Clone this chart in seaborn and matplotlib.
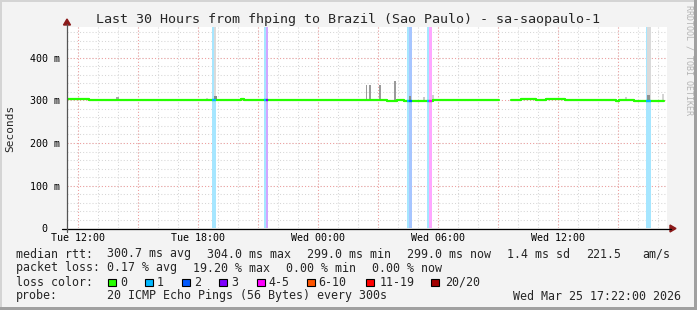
import numpy as np
import pandas as pd
import matplotlib
matplotlib.use("Agg")
import matplotlib.pyplot as plt
import seaborn as sns
from matplotlib.patches import Rectangle, Polygon
from matplotlib.lines import Line2D
from matplotlib.colors import to_rgb

# ---------------- data ----------------
title = "Last 30 Hours from fhping to Brazil (Sao Paulo) - sa-saopaulo-1"

# median rtt (ms), step segments; hours counted from Tue 00:00
run_a_hours = [11.45, 12.55, 20.15, 20.3, 21.5, 27.45, 27.95, 28.3, 29.75, 29.95, 33.05]
run_a_rtt = [304, 301, 302.5, 300.5, 301.5, 299, 301, 299, 301, 300, 300]
run_b_hours = [33.65, 34.15, 34.9, 35.4, 36.35, 38.9, 39.05, 39.7, 39.8, 41.3]
run_b_rtt = [301, 304, 300.5, 304, 300.5, 299.5, 300, 301.5, 299, 299]

# packet-loss events (lost pings out of 20)
loss_start = [18.675, 18.775, 21.3, 21.4, 28.45, 28.55, 29.45, 29.55, 40.4, 40.5]
loss_end = [18.775, 18.875, 21.4, 21.5, 28.55, 28.675, 29.55, 29.675, 40.5, 40.625]
loss_count = [1, 1, 1, 3, 1, 2, 1, 5, 1, 1]
loss_rtt = [301, 301, 300.5, 300.5, 299, 299, 299, 299, 299, 299]

# smoke (ping spread) bars
smoke_hours = [13.975, 15.05, 15.6, 16.35, 18.45, 18.85, 18.875, 19.25, 23.75, 26.425, 26.6,
               27.1, 27.85, 28.6, 29.3, 29.75, 33.9, 39.4, 40.55, 40.55, 41.25]
smoke_width = [0.15, 0.1, 0.1, 0.1, 0.1, 0.1, 0.15, 0.1, 0.15, 0.05, 0.1,
               0.1, 0.1, 0.1, 0.15, 0.1, 0.05, 0.1, 0.2, 0.15, 0.1]
smoke_lo = [302, 301, 301, 301, 302, 302, 302, 302, 301, 301, 301,
            301, 301, 300, 300, 300, 303, 302, 302, 302, 302]
smoke_hi = [308, 304, 304, 304, 306, 472, 310, 304, 304, 336, 336,
            336, 346, 310, 307, 312, 312, 307, 472, 312, 314]
smoke_gray = ["#a8a8a8", "#d4d4d4", "#d4d4d4", "#d4d4d4", "#d4d4d4", "#dadada", "#8a8a8a", "#d4d4d4",
              "#d4d4d4", "#9a9a9a", "#9a9a9a", "#9a9a9a", "#9a9a9a", "#8e8e8e", "#c8c8c8", "#d0d0d0",
              "#b0b0b0", "#d0d0d0", "#dadada", "#909090", "#d4d4d4"]

tick_hours = [12, 18, 24, 30, 36]
tick_labels = ["Tue 12:00", "Tue 18:00", "Wed 00:00", "Wed 06:00", "Wed 12:00"]
y_ticks = [0, 100, 200, 300, 400]
y_tick_labels = ["0  ", "100 m", "200 m", "300 m", "400 m"]

loss_labels = ["0", "1", "2", "3", "4-5", "6-10", "11-19", "20/20"]
loss_colors = ["#26ff00", "#00b8ff", "#0059ff", "#7e00ff", "#ff00ff", "#ff5500", "#ff0000", "#a10000"]

legend_rtt = ["median rtt:", "300.7 ms avg", "304.0 ms max", "299.0 ms min", "299.0 ms now",
              "1.4 ms sd", "221.5", "am/s"]
legend_loss = ["packet loss:", "0.17 % avg", "19.20 % max", "0.00 % min", "0.00 % now"]
legend_probe = ["probe:", "20 ICMP Echo Pings (56 Bytes) every 300s", "Wed Mar 25 17:22:00 2026"]

# ---------------- figure ----------------
W, H = 697, 310
sns.set_style("white")
plt.rcParams["font.family"] = ["DejaVu Sans Mono"]
fig = plt.figure(figsize=(W / 100, H / 100), dpi=100)
fig.patch.set_facecolor("#f3f3f3")

def fx(px):
    return px / W

def fy(py):
    return 1 - py / H

L, R, T, B = 67, 667, 27, 228.3
ax = fig.add_axes([fx(L), fy(B), fx(R) - fx(L), fy(T) - fy(B)])
ax.set_facecolor("white")
for s in ax.spines.values():
    s.set_visible(False)
ax.set_xlim(11.45, 41.45)
ax.set_ylim(0, 472)

# grid
dot = (0, (1, 2))
for h in np.arange(12, 42, 1):
    ax.axvline(h, color="#d6d6d6", lw=0.75, ls=dot, zorder=0.5)
for v in np.arange(20, 472, 20):
    ax.axhline(v, color="#d6d6d6", lw=0.75, ls=dot, zorder=0.5)
for h in np.arange(12, 42, 3):
    ax.axvline(h, color="#f0a0a0", lw=0.75, ls=dot, zorder=0.6)
for v in np.arange(100, 472, 100):
    ax.axhline(v, color="#f0a0a0", lw=0.75, ls=dot, zorder=0.6)

def idx(n):
    if n <= 3:
        return n
    if n <= 5:
        return 4
    if n <= 10:
        return 5
    if n <= 19:
        return 6
    return 7

def pale(c, a=0.35):
    r, g, b = to_rgb(c)
    return (1 - a + a * r, 1 - a + a * g, 1 - a + a * b)

# loss stripes
for s, e, n in zip(loss_start, loss_end, loss_count):
    ax.axvspan(s, e, color=pale(loss_colors[idx(n)]), lw=0, zorder=1)

# smoke
ax.bar(smoke_hours, np.array(smoke_hi) - np.array(smoke_lo), bottom=smoke_lo,
       width=smoke_width, color=smoke_gray, lw=0, zorder=2)

# median line
df = pd.DataFrame({
    "hour": run_a_hours + run_b_hours,
    "rtt": run_a_rtt + run_b_rtt,
    "run": ["a"] * len(run_a_hours) + ["b"] * len(run_b_hours),
})
sns.lineplot(data=df, x="hour", y="rtt", units="run", estimator=None, drawstyle="steps-post",
             color="#26ff00", lw=1.6, ax=ax, zorder=3)
for s, e, n, v in zip(loss_start, loss_end, loss_count, loss_rtt):
    ax.plot([s, e], [v, v], color=loss_colors[idx(n)], lw=1.6, solid_capstyle="butt", zorder=4)

ax.set_xlabel("")
ax.set_ylabel("")
ax.set_xticks(tick_hours, tick_labels)
ax.set_yticks(y_ticks, y_tick_labels)
ax.tick_params(length=0, labelsize=7.2, colors="black")
ax.tick_params(axis="x", pad=3.5)
ax.tick_params(axis="y", pad=5)

# axes lines and arrows
fig.add_artist(Line2D([fx(62), fx(671)], [fy(228.5), fy(228.5)], color="black", lw=0.9))
fig.add_artist(Line2D([fx(67), fx(67)], [fy(232), fy(24)], color="#555555", lw=0.9))
fig.add_artist(Polygon([[fx(670), fy(225)], [fx(670), fy(232)], [fx(676), fy(228.5)]],
                       closed=True, color="#8b1a1a"))
fig.add_artist(Polygon([[fx(63.5), fy(25)], [fx(70.5), fy(25)], [fx(67), fy(19)]],
                       closed=True, color="#8b1a1a"))

# texts
fig.text(fx(348), fy(20), title, ha="center", va="center", fontsize=9.6)
fig.text(fx(10.5), fy(128), "Seconds", rotation=90, ha="center", va="center", fontsize=8)
fig.text(fx(688.5), fy(60), "RRDTOOL / TOBI OETIKER", rotation=-90, ha="center", va="center",
         fontsize=6, color="#b4b4b4")

fs = 8.4
rtt_x = [16, 107, 207, 307, 407, 507, 586, 642]
for x, t in zip(rtt_x, legend_rtt):
    fig.text(fx(x), fy(254), t, ha="left", va="center", fontsize=fs)
loss_x = [16, 107, 193, 286, 372]
for x, t in zip(loss_x, legend_loss):
    fig.text(fx(x), fy(268), t, ha="left", va="center", fontsize=fs)
fig.text(fx(16), fy(282), "loss color:", ha="left", va="center", fontsize=fs)
box_x = [108, 145, 182, 219, 257, 307, 366, 431]
lab_x = [120, 157, 194, 231, 268, 318, 380, 445]
for bx, lx, lab, c in zip(box_x, lab_x, loss_labels, loss_colors):
    fig.add_artist(Rectangle((fx(bx), fy(286)), fx(7.5), 7.5 / H, facecolor=c,
                             edgecolor="black", lw=0.8))
    fig.text(fx(lx), fy(282), lab, ha="left", va="center", fontsize=fs)
probe_x = [16, 107, 513]
for x, t in zip(probe_x, legend_probe):
    fig.text(fx(x), fy(296), t, ha="left", va="center", fontsize=fs)

# frame shading
fig.add_artist(Rectangle((0, 0), fx(2), 1, facecolor="#d4d4d4", lw=0))
fig.add_artist(Rectangle((0, fy(2)), 1, 2 / H, facecolor="#d4d4d4", lw=0))
fig.add_artist(Rectangle((fx(694), 0), fx(3), 1, facecolor="#a0a0a0", lw=0))
fig.add_artist(Rectangle((0, 0), 1, 3 / H, facecolor="#a0a0a0", lw=0))

fig.savefig("out.png", dpi=100, facecolor=fig.get_facecolor())
